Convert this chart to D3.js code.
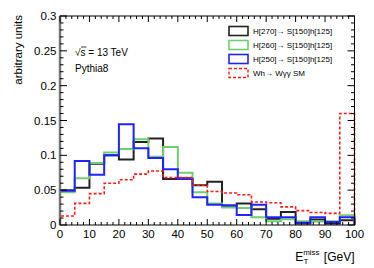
<!DOCTYPE html>
<html>
<head>
<meta charset="utf-8">
<script src="https://cdn.jsdelivr.net/npm/d3@7"></script>
<style>
    body { margin: 0; background: #fff; }
    text { font-family: 'Liberation Sans', Arial, sans-serif; fill: #000; }
</style>
</head>
<body>
<div id="chart"></div>
<script>
'use strict';

// Bin edges (GeV)
const binEdges = d3.range(0, 101, 5);

// Series (arbitrary units per 5 GeV bin)
const h270 = [0.050, 0.0535, 0.088, 0.100, 0.094, 0.119, 0.124, 0.066, 0.067, 0.057,
    0.062, 0.028, 0.031, 0.0225, 0.009, 0.0187, 0.002, 0.008, 0.002, 0.0067];
const h260 = [0.047, 0.067, 0.089, 0.104, 0.109, 0.123, 0.098, 0.112, 0.075, 0.047,
    0.031, 0.025, 0.0244, 0.011, 0.0055, 0.0082, 0.0053, 0.005, 0.0053, 0.0139];
const h250 = [0.049, 0.092, 0.072, 0.100, 0.1445, 0.110, 0.096, 0.080, 0.066, 0.040,
    0.029, 0.028, 0.0143, 0.029, 0.011, 0.011, 0.0033, 0.011, 0.0043, 0.011];
const whSM = [0.013, 0.031, 0.045, 0.060, 0.065, 0.073, 0.0775, 0.068, 0.068, 0.057,
    0.048, 0.046, 0.0435, 0.033, 0.032, 0.026, 0.0206, 0.018, 0.0167, 0.160];

// Legend labels
const seriesNames = ['H[270]→ S[150]h[125]', 'H[260]→ S[150]h[125]',
    'H[250]→ S[150]h[125]', 'Wh→ Wγγ SM'];

// Tick labels
const xTicks = d3.range(0, 101, 10);
const yTicks = [0, 0.05, 0.1, 0.15, 0.2, 0.25, 0.3];
const yTickLabels = ['0', '0.05', '0.1', '0.15', '0.2', '0.25', '0.3'];

class HistPlot {

    constructor(_ref) {
        this.parent = _ref;
        this.series = [
            {name: seriesNames[0], values: h270, color: '#222222', dash: null},
            {name: seriesNames[1], values: h260, color: '#6fcf6f', dash: null},
            {name: seriesNames[2], values: h250, color: '#2222ff', dash: null},
            {name: seriesNames[3], values: whSM, color: '#ff1a1a', dash: '3,2'}
        ];
        this.initVis();
    }

    initVis() {
        const vis = this;

        // Config
        vis.w = 374;
        vis.h = 268;
        vis.frame = {left: 60, right: 354.5, top: 16, bottom: 225};

        vis.svg = d3.select(`#${vis.parent}`)
            .append('svg')
            .attr('width', vis.w)
            .attr('height', vis.h);

        // Scales
        vis.xScale = d3.scaleLinear()
            .domain([0, 100])
            .range([vis.frame.left, vis.frame.right]);
        vis.yScale = d3.scaleLinear()
            .domain([0, 0.3])
            .range([vis.frame.bottom, vis.frame.top]);

        vis.lineMaker = d3.line()
            .x(d => vis.xScale(d[0]))
            .y(d => vis.yScale(d[1]));

        vis.drawHists();
        vis.drawAxes();
        vis.drawLabels();
        vis.drawLegend();
    }

    drawHists() {
        const vis = this;

        vis.histG = vis.svg.append('g').attr('class', 'histG');

        vis.series.forEach(s => {
            // Step outline
            const pts = [[binEdges[0], 0]];
            s.values.forEach((v, i) => {
                pts.push([binEdges[i], v]);
                pts.push([binEdges[i + 1], v]);
            });
            pts.push([binEdges[binEdges.length - 1], 0]);

            vis.histG.append('path')
                .attr('d', vis.lineMaker(pts))
                .attr('fill', 'none')
                .attr('stroke', s.color)
                .attr('stroke-width', s.dash ? 1.6 : 2)
                .attr('stroke-dasharray', s.dash);
        });
    }

    drawAxes() {
        const vis = this;
        const f = vis.frame;

        const axG = vis.svg.append('g').attr('class', 'axG');

        // Frame
        axG.append('rect')
            .attr('x', f.left)
            .attr('y', f.top)
            .attr('width', f.right - f.left)
            .attr('height', f.bottom - f.top)
            .attr('fill', 'none')
            .attr('stroke', '#000')
            .attr('stroke-width', 1);
        axG.append('line')
            .attr('x1', f.left).attr('x2', f.left)
            .attr('y1', f.top).attr('y2', f.bottom)
            .attr('stroke', '#777')
            .attr('stroke-width', 2.5);

        // X ticks (bottom + top, inward)
        const xMinor = d3.range(0, 101, 2);
        xMinor.forEach(v => {
            const major = v % 10 === 0;
            const len = major ? 6 : 3;
            const x = vis.xScale(v);
            axG.append('line')
                .attr('x1', x).attr('x2', x)
                .attr('y1', f.bottom).attr('y2', f.bottom - len)
                .attr('stroke', '#000');
            axG.append('line')
                .attr('x1', x).attr('x2', x)
                .attr('y1', f.top).attr('y2', f.top + len)
                .attr('stroke', '#000');
        });

        // Y ticks (left + right, inward)
        const yMinor = d3.range(0, 31).map(d => d / 100);
        yMinor.forEach((v, i) => {
            const major = i % 5 === 0;
            const len = major ? 7 : 3.5;
            const y = vis.yScale(v);
            axG.append('line')
                .attr('x1', f.left).attr('x2', f.left + len)
                .attr('y1', y).attr('y2', y)
                .attr('stroke', '#000');
            axG.append('line')
                .attr('x1', f.right).attr('x2', f.right - len)
                .attr('y1', y).attr('y2', y)
                .attr('stroke', '#000');
        });

        // Tick labels
        axG.selectAll('.xLab')
            .data(xTicks)
            .join('text')
            .attr('class', 'xLab')
            .attr('x', d => vis.xScale(d))
            .attr('y', 237.5)
            .attr('text-anchor', 'middle')
            .style('font-size', '11.5px')
            .text(d => d);

        axG.selectAll('.yLab')
            .data(yTicks)
            .join('text')
            .attr('class', 'yLab')
            .attr('x', 56.5)
            .attr('y', d => vis.yScale(d) + 4)
            .attr('text-anchor', 'end')
            .style('font-size', '11.5px')
            .text((d, i) => yTickLabels[i]);
    }

    drawLabels() {
        const vis = this;

        // Y title
        vis.svg.append('text')
            .attr('transform', 'translate(22,15) rotate(-90)')
            .attr('text-anchor', 'end')
            .style('font-size', '11.5px')
            .text('arbitrary units');

        // X title
        const xt = vis.svg.append('text')
            .attr('x', vis.frame.right)
            .attr('y', 260.5)
            .attr('text-anchor', 'end')
            .style('font-size', '12px');
        xt.append('tspan').text('E');
        xt.append('tspan').attr('dy', -6).style('font-size', '8px').text('miss');
        xt.append('tspan').attr('dx', -16).attr('dy', 9).style('font-size', '8px').text('T');
        xt.append('tspan').attr('dx', 12).attr('dy', -3).text(' [GeV]');

        // Annotations
        vis.svg.append('text')
            .attr('x', 75)
            .attr('y', 55.5)
            .style('font-size', '10px')
            .text('√s = 13 TeV');
        vis.svg.append('line')
            .attr('x1', 81).attr('x2', 86.5)
            .attr('y1', 47).attr('y2', 47)
            .attr('stroke', '#000')
            .attr('stroke-width', 0.8);
        vis.svg.append('text')
            .attr('x', 75)
            .attr('y', 71.5)
            .style('font-size', '10px')
            .text('Pythia8');
    }

    drawLegend() {
        const vis = this;

        const legG = vis.svg.append('g')
            .attr('class', 'legG')
            .attr('transform', 'translate(229,31)');

        const row = legG.selectAll('.legRow')
            .data(vis.series)
            .join('g')
            .attr('class', 'legRow')
            .attr('transform', (d, i) => `translate(0,${i * 14})`);

        row.append('rect')
            .attr('x', 0)
            .attr('y', -4.5)
            .attr('width', 19)
            .attr('height', 9)
            .attr('fill', 'none')
            .attr('stroke', d => d.color)
            .attr('stroke-width', d => d.dash ? 1.4 : 1.6)
            .attr('stroke-dasharray', d => d.dash);

        row.append('text')
            .attr('x', 24)
            .attr('y', 3)
            .style('font-size', '8px')
            .text(d => d.name);
    }
}

new HistPlot('chart');
</script>
</body>
</html>
